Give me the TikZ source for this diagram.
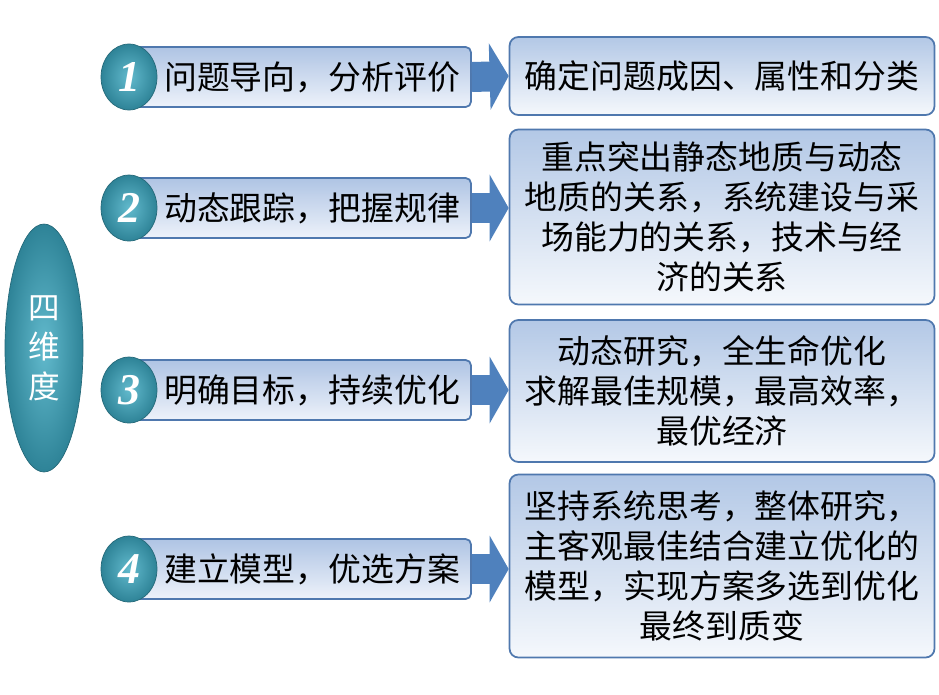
\documentclass[tikz,border=0pt]{standalone}
\usepackage{fontspec}
\newfontfamily\cjk{Noto Sans CJK SC}
\newfontfamily\numfont{Liberation Serif}
\usepackage{tikz}
\usetikzlibrary{arrows.meta,shapes.geometric}

\definecolor{tealIn}{HTML}{62BACD}
\definecolor{tealOut}{HTML}{2E8397}
\definecolor{barTop}{HTML}{AFC4E4}
\definecolor{barBot}{HTML}{EDF2FA}
\definecolor{boxTop}{HTML}{B3C8E6}
\definecolor{boxBot}{HTML}{F5F8FC}
\definecolor{edge}{HTML}{4F78AE}
\definecolor{flowBlue}{HTML}{4F81BD}

\begin{document}
\begin{tikzpicture}[
  x=0.02cm, y=-0.02cm,
  txt/.style={font=\cjk\fontsize{18.7}{22.8}\selectfont, text=black},
  bar/.style={txt, draw=edge, line width=1pt, rounded corners=3pt, top color=barTop, bottom color=barBot,
    minimum width=6.72cm, minimum height=1.2cm, inner xsep=0.22cm, text width=6.28cm, align=right},
  box/.style={txt, draw=edge, line width=1pt, rounded corners=5pt, top color=boxTop, bottom color=boxBot,
    minimum width=8.5cm, align=center},
  num/.style={ellipse, draw=tealOut!80!black, inner color=tealIn, outer color=tealOut,
    minimum width=1.12cm, minimum height=1.32cm, inner sep=0pt, text=white,
    font=\numfont\fontsize{25}{25}\selectfont\bfseries\itshape},
  flow/.style={draw=flowBlue, line width=0.6cm, -{Triangle[width=1.32cm, length=0.38cm]}}
]
  \useasboundingbox (0,0) rectangle (939,694);

  % Nodes
  \node[ellipse, draw=tealOut!80!black, inner color=tealIn, outer color=tealOut,
    minimum width=1.56cm, minimum height=4.96cm, align=center, text=white,
    font=\cjk\fontsize{18}{22.5}\selectfont] (dim) at (44,348) {四\\维\\度};

  \node[bar] (bar1) at (303,77) {问题导向，分析评价};
  \node[bar] (bar2) at (303,208) {动态跟踪，把握规律};
  \node[bar] (bar3) at (303,390) {明确目标，持续优化};
  \node[bar] (bar4) at (303,569) {建立模型，优选方案};

  \node[num] (num1) at (129,77) {1};
  \node[num] (num2) at (129,208) {2};
  \node[num] (num3) at (129,390) {3};
  \node[num] (num4) at (129,569) {4};

  \node[box, minimum height=1.56cm] (box1) at (722,76) {确定问题成因、属性和分类};
  \node[box, minimum height=3.5cm] (box2) at (722,217)
    {重点突出静态地质与动态\\地质的关系，系统建设与采\\场能力的关系，技术与经\\济的关系};
  \node[box, minimum height=2.84cm] (box3) at (722,391)
    {动态研究，全生命优化\\求解最佳规模，最高效率，\\最优经济};
  \node[box, minimum height=3.66cm] (box4) at (722,566)
    {坚持系统思考，整体研究，\\主客观最佳结合建立优化的\\模型，实现方案多选到优化\\最终到质变};

  % Flows
  \draw[flow] (bar1.east) -- (box1.west);
  \draw[flow] (bar2.east) -- (box2.west |- bar2.east);
  \draw[flow] (bar3.east) -- (box3.west |- bar3.east);
  \draw[flow] (bar4.east) -- (box4.west |- bar4.east);
\end{tikzpicture}
\end{document}
